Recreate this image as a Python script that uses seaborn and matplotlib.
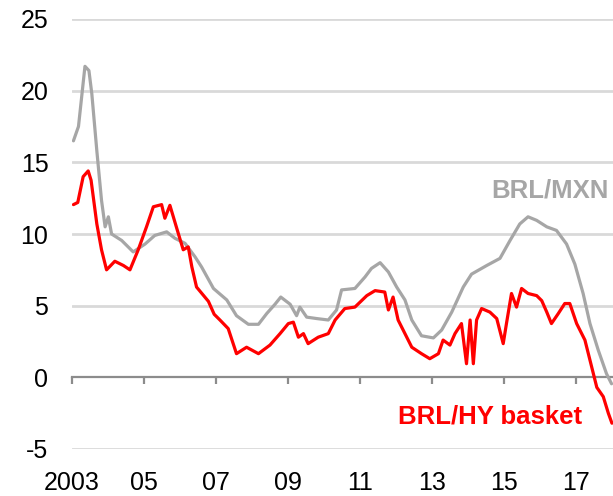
import matplotlib
matplotlib.use("Agg")
import matplotlib.pyplot as plt
import seaborn as sns
import pandas as pd

# BRL/MXN (grey) - decimal year, value
mxn_year = [2003.04, 2003.18, 2003.27, 2003.36, 2003.47, 2003.55, 2003.69, 2003.82, 2003.92, 2004.01,
            2004.10, 2004.38, 2004.70, 2005.03, 2005.30, 2005.63, 2005.86, 2006.14, 2006.42, 2006.60,
            2006.93, 2007.30, 2007.57, 2007.90, 2008.18, 2008.41, 2008.64, 2008.80, 2009.06, 2009.24,
            2009.33, 2009.52, 2009.80, 2010.12, 2010.35, 2010.49, 2010.86, 2011.14, 2011.32, 2011.56,
            2011.79, 2012.02, 2012.25, 2012.44, 2012.71, 2013.04, 2013.27, 2013.55, 2013.87, 2014.10,
            2014.52, 2014.89, 2015.17, 2015.44, 2015.67, 2015.91, 2016.19, 2016.46, 2016.74, 2016.97,
            2017.20, 2017.39, 2017.62, 2017.85, 2017.99]
mxn_val = [16.5, 17.5, 19.6, 21.7, 21.4, 19.8, 15.8, 12.35, 10.5, 11.2,
           10.0, 9.55, 8.75, 9.3, 9.9, 10.15, 9.7, 9.35, 8.4, 7.7,
           6.2, 5.4, 4.3, 3.7, 3.7, 4.45, 5.1, 5.6, 5.1, 4.3,
           4.9, 4.2, 4.1, 4.0, 4.7, 6.1, 6.2, 7.0, 7.6, 8.0,
           7.35, 6.3, 5.4, 4.0, 2.9, 2.75, 3.3, 4.55, 6.3, 7.2,
           7.8, 8.3, 9.55, 10.7, 11.2, 10.95, 10.5, 10.25, 9.3, 7.9,
           5.85, 3.75, 1.9, 0.25, -0.45]

# BRL/HY basket (red)
hy_year = [2003.04, 2003.16, 2003.31, 2003.45, 2003.53, 2003.69, 2003.82, 2003.96, 2004.19, 2004.43,
           2004.61, 2004.84, 2005.07, 2005.26, 2005.49, 2005.58, 2005.72, 2005.91, 2006.09, 2006.23,
           2006.33, 2006.46, 2006.79, 2006.95, 2007.11, 2007.34, 2007.57, 2007.85, 2008.18, 2008.50,
           2008.78, 2009.01, 2009.15, 2009.29, 2009.43, 2009.56, 2009.84, 2010.12, 2010.31, 2010.58,
           2010.86, 2011.19, 2011.42, 2011.69, 2011.79, 2011.92, 2012.06, 2012.25, 2012.44, 2012.71,
           2012.94, 2013.18, 2013.31, 2013.50, 2013.64, 2013.82, 2013.96, 2014.06, 2014.15, 2014.24,
           2014.38, 2014.61, 2014.80, 2014.98, 2015.07, 2015.21, 2015.35, 2015.49, 2015.67, 2015.91,
           2016.05, 2016.19, 2016.32, 2016.51, 2016.69, 2016.83, 2017.02, 2017.25, 2017.44, 2017.58,
           2017.76, 2017.90, 2018.00]
hy_val = [12.05, 12.2, 14.0, 14.4, 13.75, 10.7, 8.9, 7.5, 8.1, 7.8,
          7.5, 8.9, 10.5, 11.9, 12.05, 11.1, 12.0, 10.4, 8.9, 9.1,
          7.7, 6.3, 5.3, 4.4, 4.0, 3.4, 1.65, 2.1, 1.65, 2.25,
          3.05, 3.75, 3.85, 2.8, 3.05, 2.35, 2.8, 3.05, 4.0, 4.8,
          4.9, 5.7, 6.05, 5.95, 4.7, 5.6, 4.0, 3.05, 2.1, 1.65,
          1.3, 1.65, 2.6, 2.25, 3.05, 3.75, 0.95, 4.0, 0.95, 4.0,
          4.8, 4.55, 4.1, 2.35, 3.75, 5.85, 4.9, 6.2, 5.85, 5.7,
          5.35, 4.55, 3.75, 4.45, 5.15, 5.15, 3.75, 2.6, 0.7, -0.7,
          -1.35, -2.5, -3.2]

x_ticks = [2003, 2005, 2007, 2009, 2011, 2013, 2015, 2017]
x_labels = ["2003", "05", "07", "09", "11", "13", "15", "17"]
y_ticks = [-5, 0, 5, 10, 15, 20, 25]

GREY = "#a6a6a6"
RED = "#ff0000"

sns.set_theme(style="white")
plt.rcParams['font.family'] = ['Liberation Sans', 'DejaVu Sans']

fig = plt.figure(figsize=(6.13, 4.96), dpi=100)
ax = fig.add_axes([72 / 613, 47 / 496, 541 / 613, 430 / 496])

for y in y_ticks:
    if y != 0:
        ax.axhline(y, color="#d9d9d9", lw=2, zorder=0)

mxn = pd.DataFrame({"year": mxn_year, "val": mxn_val})
hy = pd.DataFrame({"year": hy_year, "val": hy_val})
sns.lineplot(data=mxn, x="year", y="val", color=GREY, lw=2.3, estimator=None, ax=ax, zorder=3)
sns.lineplot(data=hy, x="year", y="val", color=RED, lw=2.3, estimator=None, ax=ax, zorder=4)

ax.set_xlim(2003, 2018.03)
ax.set_ylim(-5, 25)
ax.set_xlabel("")
ax.set_ylabel("")
for s in ax.spines.values():
    s.set_visible(False)

ax.set_yticks(y_ticks)
ax.set_yticklabels([str(v) for v in y_ticks])
ax.set_xticks(x_ticks)
ax.set_xticklabels(x_labels)
ax.tick_params(axis="both", length=0, labelsize=18, colors="black")
ax.tick_params(axis="y", pad=17)
ax.tick_params(axis="x", pad=16)

# zero line with downward ticks
zero = ax.secondary_xaxis(5 / 30)
zero.set_xticks(x_ticks)
zero.set_xticklabels([])
zero.tick_params(direction="out", length=5, width=1.6, color="#8c8c8c")
zero.spines["bottom"].set_color("#8c8c8c")
zero.spines["bottom"].set_linewidth(1.6)

ax.text(2014.66, 13.0, "BRL/MXN", color=GREY, fontsize=18.5, fontweight="bold",
        ha="left", va="center")
ax.text(2012.06, -2.72, "BRL/HY basket", color=RED, fontsize=18.5, fontweight="bold",
        ha="left", va="center")

fig.savefig("out.png", dpi=100)
